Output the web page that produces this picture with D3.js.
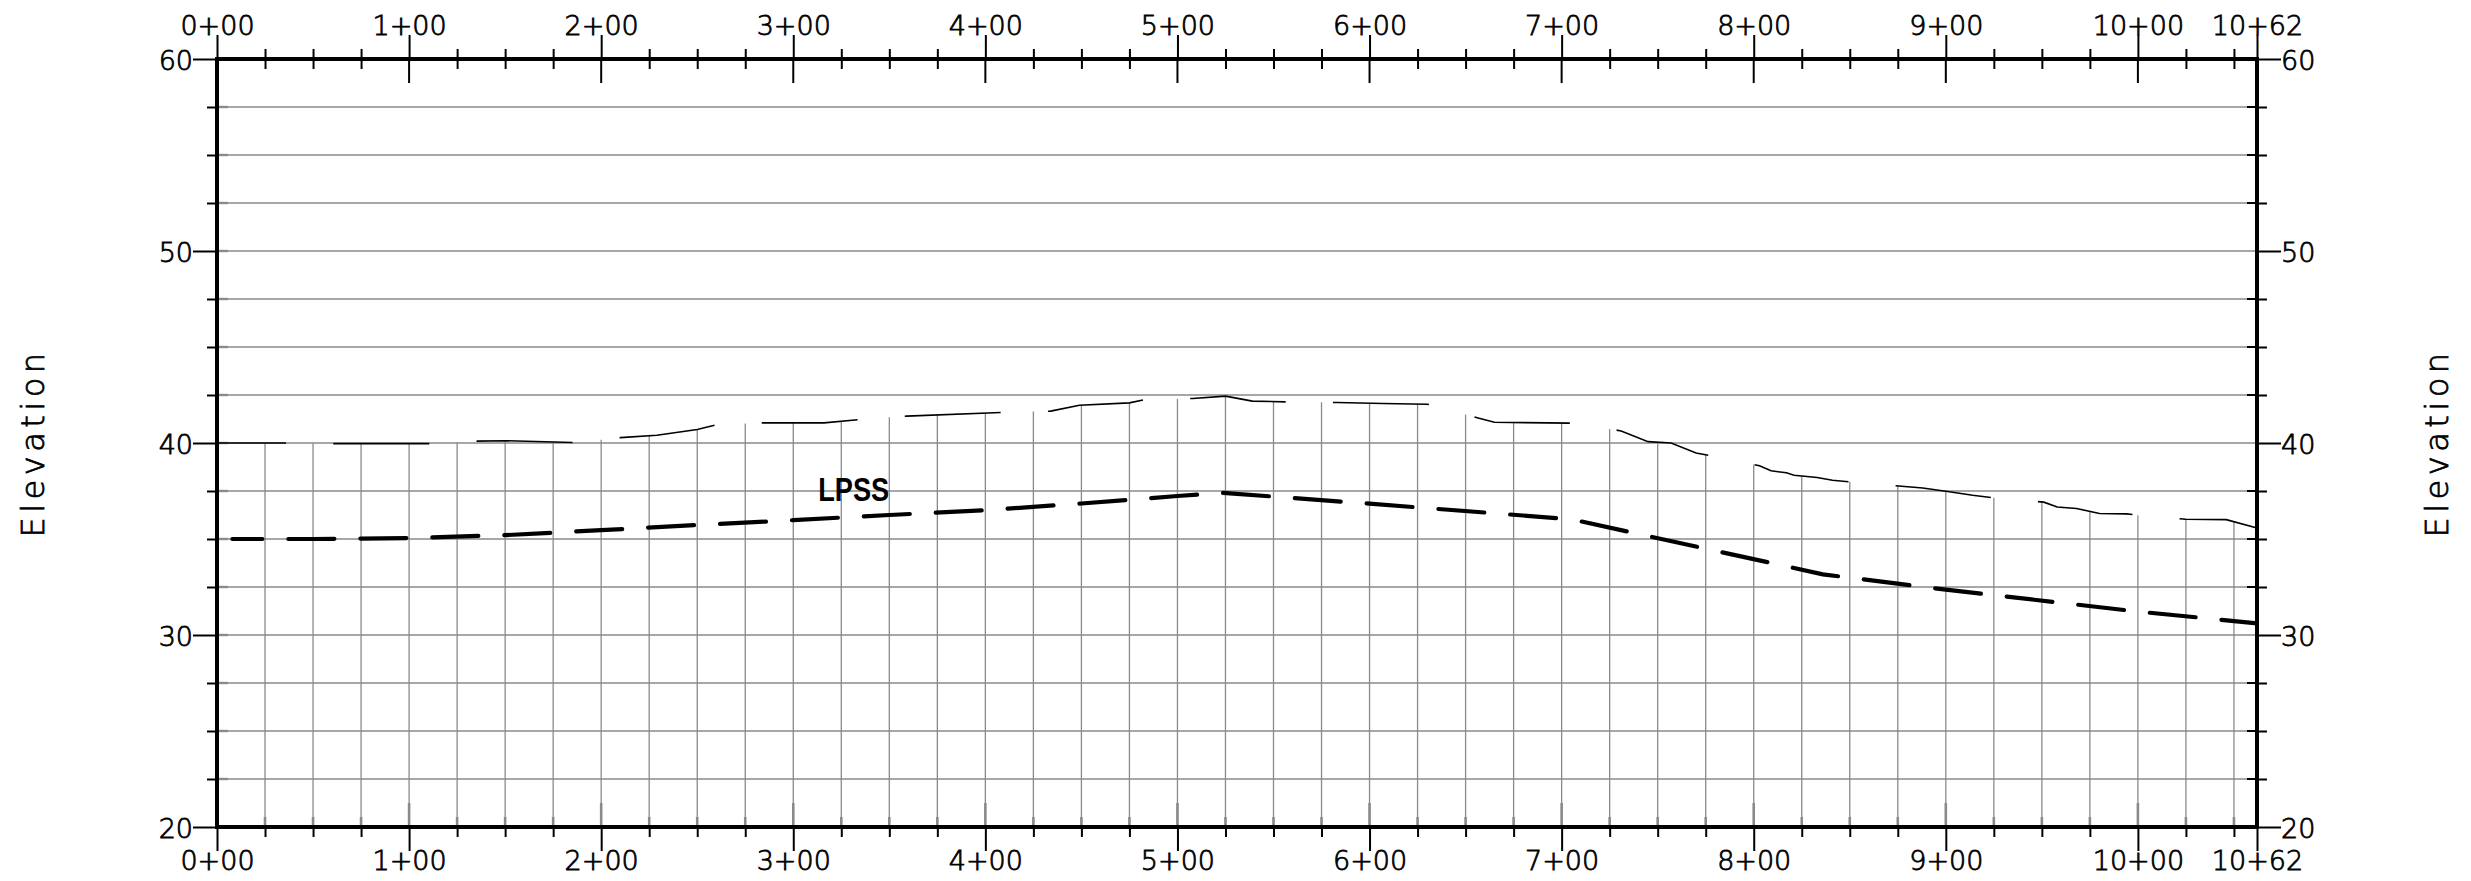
<!DOCTYPE html>
<html><head><meta charset="utf-8">
<script src="https://cdn.jsdelivr.net/npm/d3@7"></script>
<style>
html,body{margin:0;padding:0;background:#fff;}
svg{display:block;}
</style></head><body>
<svg id="chart" width="2471" height="881"></svg>
<script>
// ---------- data ----------
const stationLabels = [0,100,200,300,400,500,600,700,800,900,1000,1062];
const elevationLabels = [20,30,40,50,60];
const groundStations = [0,36,60,111,135,150,186,210,229,250,260,284,316,334,359,409,434,449,475,484,508,525,539,558,583,607,630,635,657,665,707,731,745,757,770,779,803,809,817,821,833,841,852,877,888,900,914,927,951,958,968,980,994,1000,1025,1046,1062];
const groundElevations = [40.0,40.0,39.97,39.97,40.1,40.12,40.02,40.28,40.4,40.7,40.95,41.05,41.05,41.22,41.40,41.59,41.66,41.97,42.09,42.28,42.32,42.44,42.18,42.14,42.11,42.06,42.02,41.92,41.29,41.08,41.03,40.63,40.07,40.0,39.48,39.31,38.82,38.55,38.45,38.32,38.2,38.06,37.96,37.75,37.66,37.49,37.28,37.12,36.92,36.67,36.59,36.33,36.31,36.24,36.03,36.01,35.57];
const lpssStations = [8,50,100,150,200,250,300,350,400,450,500,523,600,705,836,900,1000,1062];
const lpssElevations = [35.0,35.0,35.05,35.2,35.46,35.73,35.98,36.25,36.5,36.85,37.24,37.41,36.84,36.03,33.16,32.36,31.22,30.61];
const profileLabel = "LPSS";
const profileLabelStation = 313;
const profileLabelElevation = 37.0;
const axisTitle = "Elevation";

// ---------- layout ----------
const m = {l:217, r:2257, t:59, b:827};
const x = d3.scaleLinear().domain([0,1062]).range([m.l,m.r]);
const y = d3.scaleLinear().domain([20,60]).range([m.b,m.t]);
const svg = d3.select("#chart");
const gray = "#8a8a8a";
const font = "'DejaVu Sans', sans-serif";
const fw = 200;
const fs = 27;
const fmt = d => Math.floor(d/100) + "+" + String(d%100).padStart(2,"0");

const gridStations = d3.range(25,1062,25);
const minorStations = gridStations.filter(s => s%100 !== 0);
const interiorMajor = stationLabels.filter(s => s>0 && s<1062);
const gridElev = d3.range(22.5,60,2.5);
const minorElev = gridElev.filter(e => e%10 !== 0);

const bis = d3.bisector(d=>d).left;
function groundAt(s){
  let i = bis(groundStations, s);
  if (i<=0) return groundElevations[0];
  if (i>=groundStations.length) return groundElevations[groundElevations.length-1];
  const s0=groundStations[i-1], s1=groundStations[i];
  const t=(s-s0)/(s1-s0);
  return groundElevations[i-1]+t*(groundElevations[i]-groundElevations[i-1]);
}

// horizontal grid
svg.append("g").selectAll("line").data(gridElev).join("line")
  .attr("x1",m.l).attr("x2",m.r).attr("y1",d=>y(d)).attr("y2",d=>y(d))
  .attr("stroke",gray).attr("stroke-width",1.6);
// vertical grid up to ground
svg.append("g").selectAll("line").data(gridStations).join("line")
  .attr("x1",d=>x(d)).attr("x2",d=>x(d)).attr("y1",m.b).attr("y2",d=>y(groundAt(d)))
  .attr("stroke",gray).attr("stroke-width",1.3);
// inner gray ticks bottom
svg.append("g").selectAll("line").data(gridStations).join("line")
  .attr("x1",d=>x(d)).attr("x2",d=>x(d)).attr("y1",m.b)
  .attr("y2",d=> d%100===0 ? m.b-24 : m.b-10)
  .attr("stroke",gray).attr("stroke-width",2.6);
// inner gray ticks left
svg.append("g").selectAll("line").data(gridElev).join("line")
  .attr("x1",m.l).attr("x2",m.l+11).attr("y1",d=>y(d)).attr("y2",d=>y(d))
  .attr("stroke",gray).attr("stroke-width",2.4);
// inner black ticks right
svg.append("g").selectAll("line").data(minorElev).join("line")
  .attr("x1",m.r-10).attr("x2",m.r).attr("y1",d=>y(d)).attr("y2",d=>y(d))
  .attr("stroke","#000").attr("stroke-width",2);

// ground line
const line = d3.line().x(d=>x(d[0])).y(d=>y(d[1]));
svg.append("path")
  .datum(d3.zip(groundStations, groundElevations))
  .attr("d", line).attr("fill","none").attr("stroke","#000")
  .attr("stroke-width",1.6).attr("stroke-dasharray","96,47.3").attr("stroke-dashoffset",27);

// LPSS line
svg.append("path")
  .datum(d3.zip(lpssStations, lpssElevations))
  .attr("d", line).attr("fill","none").attr("stroke","#000")
  .attr("stroke-width",4.2).attr("stroke-linecap","round")
  .attr("stroke-dasharray","46,26").attr("stroke-dashoffset",16);

svg.append("text").text(profileLabel)
  .attr("x", x(profileLabelStation)).attr("y", y(profileLabelElevation))
  .attr("font-family","'Liberation Sans Narrow','Arial Narrow','Liberation Sans',sans-serif")
  .attr("font-weight","bold").attr("font-size",33).attr("fill","#000")
  .attr("textLength",71).attr("lengthAdjust","spacingAndGlyphs");

// ---------- axes ----------
function styleText(sel, size){
  sel.attr("font-family",font).attr("font-weight",fw).attr("font-size",size)
    .attr("fill","#000").attr("stroke","#000").attr("stroke-width",0.8);
}
function styleAxis(g){
  g.select(".domain").remove();
  g.selectAll("line").attr("stroke","#000").attr("stroke-width",2);
  styleText(g.selectAll("text"), fs);
}
// top
const gTop = svg.append("g").attr("transform",`translate(0,${m.t})`)
  .call(d3.axisTop(x).tickValues(stationLabels).tickSize(24).tickPadding(0).tickFormat(fmt));
styleAxis(gTop);
gTop.selectAll("text").attr("y",-24).attr("dy","0");
svg.append("g").attr("transform",`translate(0,${m.t})`)
  .call(d3.axisTop(x).tickValues(minorStations).tickSize(10).tickFormat(""))
  .call(g=>{g.select(".domain").remove(); g.selectAll("line").attr("stroke","#000").attr("stroke-width",2).attr("y2",-10).attr("y1",10);});
svg.append("g").selectAll("line").data(interiorMajor).join("line")
  .attr("x1",d=>x(d)).attr("x2",d=>x(d)).attr("y1",m.t).attr("y2",m.t+24)
  .attr("stroke","#000").attr("stroke-width",2);
// bottom
const gBot = svg.append("g").attr("transform",`translate(0,${m.b})`)
  .call(d3.axisBottom(x).tickValues(stationLabels).tickSize(24).tickPadding(0).tickFormat(fmt));
styleAxis(gBot);
gBot.selectAll("text").attr("y",43).attr("dy","0");
svg.append("g").attr("transform",`translate(0,${m.b})`)
  .call(d3.axisBottom(x).tickValues(minorStations).tickSize(10).tickFormat(""))
  .call(g=>{g.select(".domain").remove(); g.selectAll("line").attr("stroke","#000").attr("stroke-width",2);});
// left
const gLeft = svg.append("g").attr("transform",`translate(${m.l},0)`)
  .call(d3.axisLeft(y).tickValues(elevationLabels).tickSize(24).tickPadding(0).tickFormat(d=>d));
styleAxis(gLeft);
gLeft.selectAll("text").attr("dy","0.37em");
svg.append("g").attr("transform",`translate(${m.l},0)`)
  .call(d3.axisLeft(y).tickValues(minorElev).tickSize(10).tickFormat(""))
  .call(g=>{g.select(".domain").remove(); g.selectAll("line").attr("stroke","#000").attr("stroke-width",2);});
// right
const gRight = svg.append("g").attr("transform",`translate(${m.r},0)`)
  .call(d3.axisRight(y).tickValues(elevationLabels).tickSize(24).tickPadding(0).tickFormat(d=>d));
styleAxis(gRight);
gRight.selectAll("text").attr("dy","0.37em");
svg.append("g").attr("transform",`translate(${m.r},0)`)
  .call(d3.axisRight(y).tickValues(minorElev).tickSize(10).tickFormat(""))
  .call(g=>{g.select(".domain").remove(); g.selectAll("line").attr("stroke","#000").attr("stroke-width",2);});

// frame
svg.append("rect").attr("x",m.l).attr("y",m.t).attr("width",m.r-m.l).attr("height",m.b-m.t)
  .attr("fill","none").attr("stroke","#000").attr("stroke-width",4);

// titles
[[33,-90],[2437,-90]].forEach(([cx,rot])=>{
  const t = svg.append("text").text(axisTitle)
    .attr("transform",`translate(${cx},${(m.t+m.b)/2}) rotate(${rot})`)
    .attr("text-anchor","middle").attr("dominant-baseline","central")
    .attr("letter-spacing",4.5);
  styleText(t, 32);
});
</script>
</body></html>
